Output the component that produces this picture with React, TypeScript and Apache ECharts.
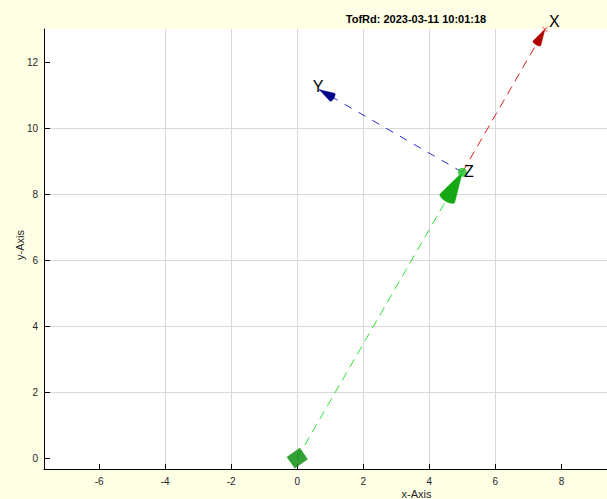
import React, { useEffect, useRef } from "react";
import * as echarts from "echarts";

// ---- data ----
const origin: [number, number] = [0, 0];
const zTip: [number, number] = [5.0, 8.66];
const xTip: [number, number] = [7.5, 12.99];
const yTip: [number, number] = [0.67, 11.16];

const axisNames = ["X", "Y", "Z"];
const labelAnchors: [number, number][] = [
  [7.62, 13.24],
  [0.47, 11.27],
  [5.05, 8.68],
];

const xTicks = [-6, -4, -2, 0, 2, 4, 6, 8];
const yTicks = [0, 2, 4, 6, 8, 10, 12];
const xRange: [number, number] = [-7.67, 9.38];
const yRange: [number, number] = [-0.33, 13.0];

const titleText = "TofRd: 2023-03-11 10:01:18";

const FONT = "'Liberation Sans', Arial, Helvetica, sans-serif";

// arrowhead visual styles (pixel sizes)
const arrowStyles = [
  { len: 30, wid: 17, color: "#14a814" },
  { len: 16, wid: 9, color: "#b00000" },
  { len: 15, wid: 9, color: "#00008b" },
];

export default function App() {
  const ref = useRef<HTMLDivElement>(null);

  useEffect(() => {
    if (!ref.current) return;
    const chart = echarts.init(ref.current, undefined, { renderer: "svg" });

    const arrowData = [
      [origin[0], origin[1], zTip[0], zTip[1]],
      [zTip[0], zTip[1], xTip[0], xTip[1]],
      [zTip[0], zTip[1], yTip[0], yTip[1]],
    ];

    const fmt = (v: number) =>
      Math.abs(v - Math.round(v)) < 1e-6 && Math.round(v) % 2 === 0 ? String(Math.round(v)) : "";

    const option: any = {
      animation: false,
      backgroundColor: "#ffffe6",
      grid: {
        left: 44,
        right: 0,
        top: 29,
        bottom: 30,
        show: true,
        backgroundColor: "#ffffff",
        borderWidth: 0,
        containLabel: false,
        outerBoundsMode: "none",
      },
      xAxis: {
        type: "value",
        min: xRange[0],
        max: xRange[1],
        minInterval: 2,
        maxInterval: 2,
        splitNumber: 8,
        axisLine: { show: true, onZero: false, lineStyle: { color: "#000", width: 1 } },
        axisTick: { show: true, inside: true, length: 5, customValues: xTicks, lineStyle: { color: "#000" } },
        axisLabel: {
          show: true,
          customValues: xTicks,
          formatter: fmt,
          fontSize: 10,
          color: "#262626",
          fontFamily: FONT,
          margin: 7,
        },
        splitLine: { show: true, showMinLine: false, showMaxLine: false, lineStyle: { color: "#d9d9d9", width: 1 } },
      },
      yAxis: {
        type: "value",
        min: yRange[0],
        max: yRange[1],
        minInterval: 2,
        maxInterval: 2,
        splitNumber: 7,
        axisLine: { show: true, onZero: false, lineStyle: { color: "#000", width: 1 } },
        axisTick: { show: true, inside: true, length: 6, customValues: yTicks, lineStyle: { color: "#000" } },
        axisLabel: {
          show: true,
          customValues: yTicks,
          formatter: fmt,
          fontSize: 10,
          color: "#262626",
          fontFamily: FONT,
          margin: 6,
        },
        splitLine: { show: true, showMinLine: false, showMaxLine: false, lineStyle: { color: "#d9d9d9", width: 1 } },
      },
      series: [
        {
          type: "line",
          data: [origin, zTip],
          symbol: "none",
          lineStyle: { color: "#33e033", width: 1, type: [9, 6] },
          z: 2,
        },
        {
          type: "line",
          data: [zTip, xTip],
          symbol: "none",
          lineStyle: { color: "#dd2020", width: 1, type: [9, 6] },
          z: 2,
        },
        {
          type: "line",
          data: [zTip, yTip],
          symbol: "none",
          lineStyle: { color: "#2a2ad0", width: 1, type: [8, 8] },
          z: 2,
        },
        {
          type: "custom",
          coordinateSystem: "cartesian2d",
          data: arrowData,
          z: 3,
          renderItem: (params: any, api: any) => {
            const s = api.coord([api.value(0), api.value(1)]);
            const e = api.coord([api.value(2), api.value(3)]);
            const st = arrowStyles[params.dataIndex];
            const dx = e[0] - s[0];
            const dy = e[1] - s[1];
            const d = Math.hypot(dx, dy) || 1;
            const ux = dx / d;
            const uy = dy / d;
            const px = -uy;
            const py = ux;
            const bx = e[0] - ux * st.len;
            const by = e[1] - uy * st.len;
            const pts: number[][] = [[e[0], e[1]]];
            const n = 12;
            for (let i = 0; i <= n; i++) {
              const t = (Math.PI * i) / n;
              const c = Math.cos(t);
              const sn = Math.sin(t);
              pts.push([
                bx + px * (st.wid / 2) * c - ux * (st.wid / 5) * sn,
                by + py * (st.wid / 2) * c - uy * (st.wid / 5) * sn,
              ]);
            }
            return {
              type: "polygon",
              shape: { points: pts },
              style: { fill: st.color, stroke: st.color, lineWidth: 0.5 },
            };
          },
        },
        {
          type: "scatter",
          data: [origin],
          symbol: "rect",
          symbolSize: [16, 14],
          symbolRotate: 35,
          itemStyle: { color: "#008a00" },
          z: 4,
        },
        {
          type: "scatter",
          data: [zTip],
          symbol: "circle",
          symbolSize: 9,
          itemStyle: { color: "#22c522" },
          z: 5,
        },
        {
          type: "scatter",
          data: [xTip],
          symbol: "path://M0,0L10,10M10,0L0,10",
          symbolSize: 5,
          itemStyle: { color: "none", borderColor: "#e01010", borderWidth: 1 },
          z: 5,
        },
        {
          type: "custom",
          coordinateSystem: "cartesian2d",
          data: labelAnchors.map((p, i) => [p[0], p[1], i]),
          z: 6,
          renderItem: (params: any, api: any) => {
            const p = api.coord([api.value(0), api.value(1)]);
            return {
              type: "text",
              x: p[0],
              y: p[1],
              style: {
                text: axisNames[params.dataIndex],
                fontSize: 16,
                fontFamily: FONT,
                fill: "#000",
                align: "left",
                verticalAlign: "middle",
              },
            };
          },
        },
      ],
      graphic: [
        {
          type: "text",
          x: 416,
          y: 19,
          style: {
            text: titleText,
            fontSize: 11,
            fontWeight: "bold",
            fontFamily: FONT,
            fill: "#000",
            align: "center",
            verticalAlign: "middle",
          },
        },
        {
          type: "text",
          x: 416.5,
          y: 494,
          style: {
            text: "x-Axis",
            fontSize: 11,
            fontFamily: FONT,
            fill: "#262626",
            align: "center",
            verticalAlign: "middle",
          },
        },
        {
          type: "text",
          x: 20,
          y: 245,
          rotation: Math.PI / 2,
          style: {
            text: "y-Axis",
            fontSize: 11,
            fontFamily: FONT,
            fill: "#262626",
            align: "center",
            verticalAlign: "middle",
          },
        },
      ],
    };

    chart.setOption(option);
    return () => chart.dispose();
  }, []);

  return (
    <div
      ref={ref}
      style={{ position: "fixed", left: 0, top: 0, width: 607, height: 499 }}
    />
  );
}
